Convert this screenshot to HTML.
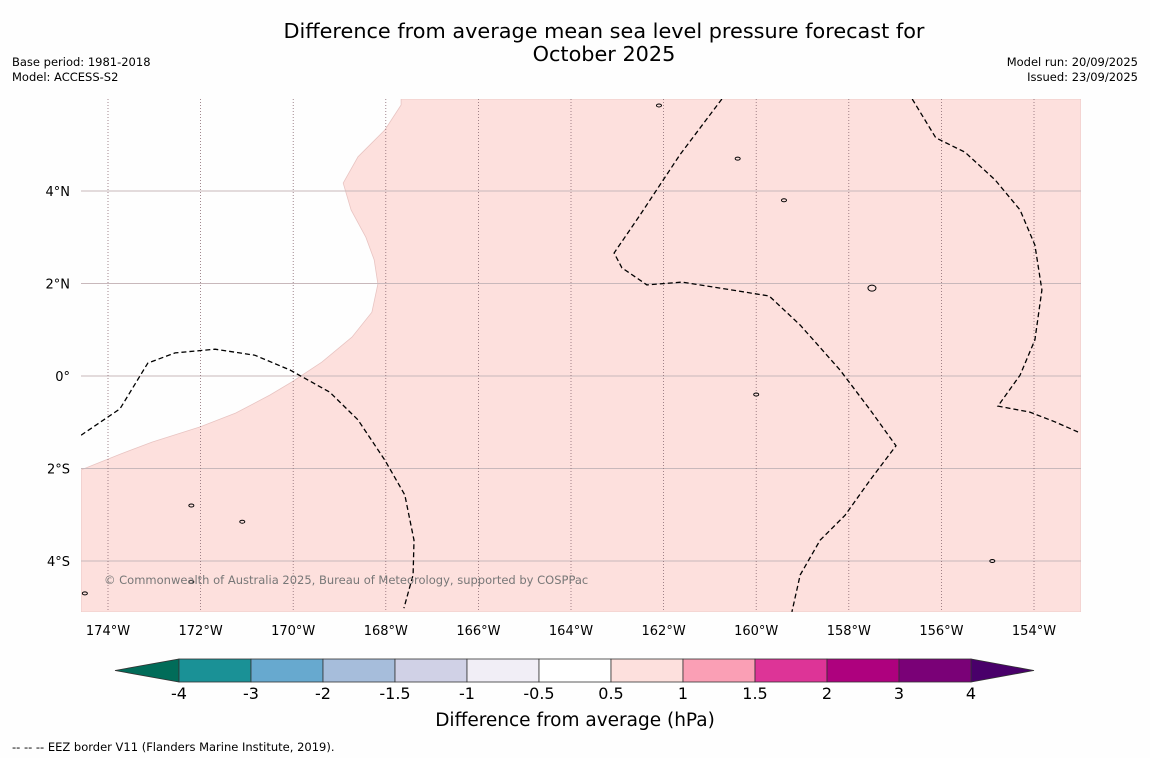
<!DOCTYPE html>
<html><head><meta charset="utf-8"><style>
body{margin:0;background:#fefefe;font-family:"DejaVu Sans","Liberation Sans",sans-serif;}
svg{display:block}
</style></head><body>
<svg id="chart" width="1150" height="758" xmlns="http://www.w3.org/2000/svg">
<rect width="1150" height="758" fill="#fefefe"/>
<text x="604" y="38" font-size="20.8" text-anchor="middle">Difference from average mean sea level pressure forecast for</text>
<text x="604" y="61" font-size="20.8" text-anchor="middle">October 2025</text>
<text x="12" y="66" font-size="11.5">Base period: 1981-2018</text>
<text x="12" y="81" font-size="11.5">Model: ACCESS-S2</text>
<text x="1138" y="66" font-size="11.5" text-anchor="end">Model run: 20/09/2025</text>
<text x="1138" y="81" font-size="11.5" text-anchor="end">Issued: 23/09/2025</text>
<g id="map"></g>
<g id="cbar"></g>
<text x="575" y="726" font-size="18.5" text-anchor="middle">Difference from average (hPa)</text>
<text x="12" y="751" font-size="11.5">--  --  -- EEZ border V11 (Flanders Marine Institute, 2019).</text>
</svg>
<script>
const lonTicks=[-174,-172,-170,-168,-166,-164,-162,-160,-158,-156,-154];
const latTicks=[4,2,0,-2,-4];
const anomalyBoundaryLon=[-167.67,-167.67,-168.02,-168.60,-168.92,-168.75,-168.43,-168.25,-168.17,-168.30,-168.73,-169.38,-170.03,-170.50,-171.24,-172.01,-173.05,-173.74,-174.58];
const anomalyBoundaryLat=[5.99,5.86,5.32,4.74,4.17,3.59,3.00,2.51,1.99,1.38,0.84,0.30,-0.13,-0.41,-0.80,-1.10,-1.43,-1.69,-2.03];
const eezALon=[-174.58,-173.74,-173.14,-172.55,-171.69,-170.83,-170.07,-169.21,-168.60,-168.02,-167.59,-167.39,-167.41,-167.61];
const eezALat=[-1.28,-0.71,0.28,0.50,0.58,0.45,0.13,-0.35,-0.95,-1.82,-2.57,-3.55,-4.30,-5.02];
const eezBLon=[-160.74,-161.65,-162.51,-163.07,-162.90,-162.36,-161.60,-160.78,-159.72,-159.05,-158.19,-157.54,-156.98,-157.54,-158.08,-158.62,-159.05,-159.23];
const eezBLat=[5.99,4.78,3.48,2.66,2.34,1.97,2.03,1.90,1.73,1.10,0.13,-0.73,-1.51,-2.25,-3.01,-3.55,-4.30,-5.10];
const eezCLon=[-156.63,-156.12,-155.49,-154.84,-154.30,-153.98,-153.83,-153.98,-154.30,-154.78,-154.09,-153.55,-153.05];
const eezCLat=[5.99,5.15,4.84,4.24,3.59,2.83,1.86,0.78,0.02,-0.65,-0.78,-0.99,-1.21];
const islandLon=[-157.5,-159.4,-172.2,-171.1,-154.9,-162.1,-160.4,-160.0,-172.2,-174.5];
const islandLat=[1.9,3.8,-2.8,-3.15,-4.0,5.85,4.7,-0.4,-4.45,-4.7];
const cbarLevels=["-4","-3","-2","-1.5","-1","-0.5","0.5","1","1.5","2","3","4"];
const cbarColors=["#1a9196","#67a9cf","#a6bddb","#d0d1e6","#f1eef6","#ffffff","#fde0dd","#fa9fb5","#dd3497","#ae017e","#7a0177"];

const X0=81,X1=1081,Y0=99,Y1=612;
const xS=lon=>108+(lon+174)*46.3;
const yS=lat=>376-lat*46.25;
const NS='http://www.w3.org/2000/svg';
const map=document.getElementById('map');
function mk(tag,attrs,parent){const e=document.createElementNS(NS,tag);for(const k in attrs)e.setAttribute(k,attrs[k]);parent.appendChild(e);return e;}
function pts(lons,lats){return lons.map((l,i)=>xS(l).toFixed(1)+','+yS(lats[i]).toFixed(1)).join(' ');}

const defs=mk('defs',{},map);
const cp=mk('clipPath',{id:'clip'},defs);
mk('rect',{x:X0,y:Y0,width:X1-X0,height:Y1-Y0},cp);
const g=mk('g',{'clip-path':'url(#clip)'},map);

let p=pts(anomalyBoundaryLon,anomalyBoundaryLat)+' '+X0+','+Y1+' '+X1+','+Y1+' '+X1+','+Y0;
const fill=mk('polygon',{points:p,fill:'#fde0dd',stroke:'#e8c4c2','stroke-width':0.8},g);



latTicks.forEach(lat=>{
  const l=mk('line',{x1:X0,x2:X1,y1:yS(lat),y2:yS(lat),stroke:'#c8b8bb','stroke-width':1},g);
  
  
  const t=mk('text',{x:70,y:yS(lat)+5,'font-size':13,'text-anchor':'end'},map);
  t.textContent=Math.abs(lat)+'°'+(lat>0?'N':lat<0?'S':'');
  
  
});
lonTicks.forEach(lon=>{
  const l=mk('line',{x1:xS(lon),x2:xS(lon),y1:Y0,y2:Y1,stroke:'#8a6a72','stroke-width':0.8,'stroke-dasharray':'1,2'},g);
  
  
  const t=mk('text',{x:xS(lon),y:635,'font-size':13,'text-anchor':'middle'},map);
  t.textContent=Math.abs(lon)+'°W';
  
  
});

[[eezALon,eezALat],[eezBLon,eezBLat],[eezCLon,eezCLat]].forEach(([a,b])=>{
  const l=mk('polyline',{points:pts(a,b),fill:'none',stroke:'#000','stroke-width':1.3,'stroke-dasharray':'5,3'},g);
  
  
});
islandLon.forEach((lon,i)=>{
  const e=mk('ellipse',{cx:xS(lon),cy:yS(islandLat[i]),rx:i==0?4:2.5,ry:i==0?3:1.5,fill:'none',stroke:'#000','stroke-width':1},g);
  
  
});
const cr=mk('text',{x:104,y:584,'font-size':11.5,fill:'#777'},map);
cr.textContent='© Commonwealth of Australia 2025, Bureau of Meteorology, supported by COSPPac';



const cb=document.getElementById('cbar');
const bx=179,bw=72,by=659,bh=23;
const la=mk('polygon',{points:`${bx},${by} ${bx},${by+bh} 115,${by+bh/2}`,fill:'#016c59',stroke:'#333','stroke-width':0.8},cb);


const n=cbarColors.length;
const ra=mk('polygon',{points:`${bx+n*bw},${by} ${bx+n*bw},${by+bh} 1034,${by+bh/2}`,fill:'#49006a',stroke:'#333','stroke-width':0.8},cb);


cbarColors.forEach((c,i)=>{
  const r=mk('rect',{x:bx+i*bw,y:by,width:bw,height:bh,fill:c,stroke:'#333','stroke-width':0.8},cb);
  
  
});
cbarLevels.forEach((v,i)=>{
  const t=mk('text',{x:bx+i*bw,y:699,'font-size':16,'text-anchor':'middle'},cb);
  t.textContent=v;
  
  
});
</script>
</body></html>
